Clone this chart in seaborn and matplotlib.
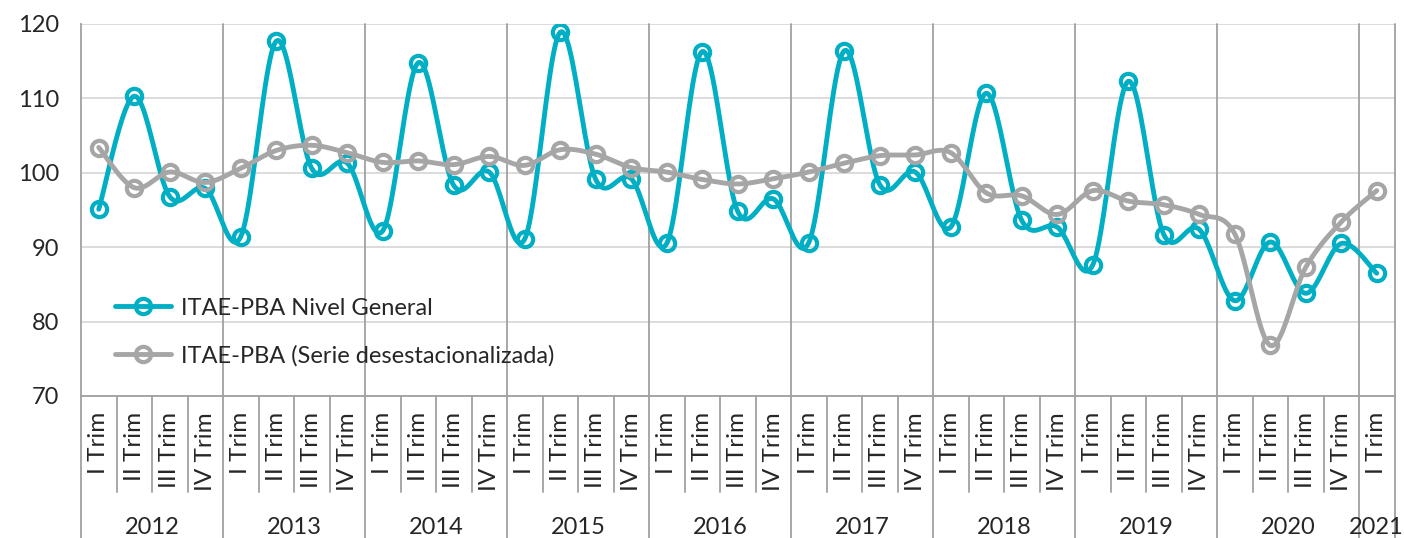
import numpy as np
import matplotlib.pyplot as plt
import seaborn as sns
from matplotlib.lines import Line2D
import matplotlib.transforms as mtransforms

# Datos
trimestres = ['I Trim', 'II Trim', 'III Trim', 'IV Trim'] * 9 + ['I Trim']
anios = ['2012', '2013', '2014', '2015', '2016', '2017', '2018', '2019', '2020', '2021']

nivel_general = [95.1, 110.3, 96.8, 97.9,
                 91.4, 117.7, 100.6, 101.3,
                 92.2, 114.8, 98.3, 100.1,
                 91.1, 118.9, 99.1, 99.2,
                 90.5, 116.3, 94.8, 96.5,
                 90.6, 116.4, 98.4, 100.1,
                 92.7, 110.7, 93.6, 92.7,
                 87.6, 112.3, 91.7, 92.4,
                 82.8, 90.7, 83.8, 90.5,
                 86.5]

desestacionalizada = [103.4, 98.0, 100.1, 98.7,
                      100.6, 103.0, 103.7, 102.7,
                      101.4, 101.6, 101.1, 102.2,
                      101.0, 103.1, 102.5, 100.7,
                      100.1, 99.1, 98.5, 99.2,
                      100.1, 101.3, 102.3, 102.4,
                      102.7, 97.3, 96.9, 94.4,
                      97.6, 96.2, 95.7, 94.4,
                      91.8, 76.8, 87.3, 93.4,
                      97.6]

serie1 = 'ITAE-PBA Nivel General'
serie2 = 'ITAE-PBA (Serie desestacionalizada)'
color1 = '#00AFC4'
color2 = '#A6A6A6'


def suavizar(y, pasos=24):
    # curva suavizada tipo Excel (Bezier con tangentes Catmull-Rom)
    p = np.column_stack([np.arange(len(y)), y]).astype(float)
    ext = np.vstack([p[0], p, p[-1]])
    t = np.linspace(0, 1, pasos)[:, None]
    tramos = []
    for i in range(len(p) - 1):
        p0, p1, p2, p3 = ext[i], ext[i + 1], ext[i + 2], ext[i + 3]
        c1 = p1 + (p2 - p0) / 6
        c2 = p2 - (p3 - p1) / 6
        seg = (1 - t) ** 3 * p1 + 3 * (1 - t) ** 2 * t * c1 + 3 * (1 - t) * t ** 2 * c2 + t ** 3 * p2
        tramos.append(seg if i == 0 else seg[1:])
    curva = np.vstack(tramos)
    return curva[:, 0], curva[:, 1]


sns.set_style('white')
plt.rcParams['font.family'] = ['Lato', 'DejaVu Sans']

fig = plt.figure(figsize=(14.04, 5.38), dpi=100)
ax = fig.add_axes([81 / 1404, 1 - 396 / 538, 1313.5 / 1404, 372 / 538])

x = np.arange(len(trimestres))
for serie, col, z in [(nivel_general, color1, 3), (desestacionalizada, color2, 4)]:
    xs, ys = suavizar(serie)
    sns.lineplot(x=xs, y=ys, color=col, lw=3.5, sort=False, estimator=None, ax=ax, zorder=z)
    ax.plot(x, serie, 'o', ms=11, mfc='none', mec=col, mew=3, zorder=z)

ax.set_xlim(-0.5, len(trimestres) - 0.5)
ax.set_ylim(70, 120)
ax.set_yticks(range(70, 121, 10))
ax.tick_params(axis='y', labelsize=17, length=8, width=1.3, color='#A0A0A0', pad=8, direction='out')
ax.set_xticks([])
ax.yaxis.grid(True, color='#D9D9D9', lw=1.3)
ax.set_axisbelow(True)
ax.set_xlabel('')
ax.set_ylabel('')
for s in ['top', 'right']:
    ax.spines[s].set_visible(False)
for s in ['left', 'bottom']:
    ax.spines[s].set_color('#A0A0A0')
    ax.spines[s].set_linewidth(1.3)

# eje de categorías en dos niveles
trans = mtransforms.blended_transform_factory(ax.transData, ax.transAxes)
fondo = -142 / 372
for i, q in enumerate(trimestres):
    ax.text(i, -16 / 372, q, rotation=90, ha='center', va='top', fontsize=17.5,
            transform=trans, clip_on=False)
    if i > 0 and q != 'I Trim':
        ax.plot([i - 0.5, i - 0.5], [0, -96 / 372], color='#A0A0A0', lw=1.3,
                transform=trans, clip_on=False)

inicio = [i for i, q in enumerate(trimestres) if q == 'I Trim']
fin = inicio[1:] + [len(trimestres)]
for a, i0, i1 in zip(anios, inicio, fin):
    ax.text((i0 + i1 - 1) / 2, -131 / 372, a, ha='center', va='center', fontsize=17,
            transform=trans, clip_on=False)
    ax.plot([i1 - 0.5, i1 - 0.5], [1, fondo], color='#A0A0A0', lw=1.3,
            transform=trans, clip_on=False)
ax.plot([-0.5, -0.5], [0, fondo], color='#A0A0A0', lw=1.3, transform=trans, clip_on=False)

handles = [Line2D([], [], color=color1, lw=3.5, marker='o', ms=11, mfc='none', mec=color1, mew=3),
           Line2D([], [], color=color2, lw=3.5, marker='o', ms=11, mfc='none', mec=color2, mew=3)]
ax.legend(handles, [serie1, serie2], loc='lower left', bbox_to_anchor=(0.026, 0.08),
          frameon=False, fontsize=17, handlelength=2.35, handletextpad=0.42,
          labelspacing=1.1, borderaxespad=0, borderpad=0)

plt.savefig('out.png', dpi=100)
